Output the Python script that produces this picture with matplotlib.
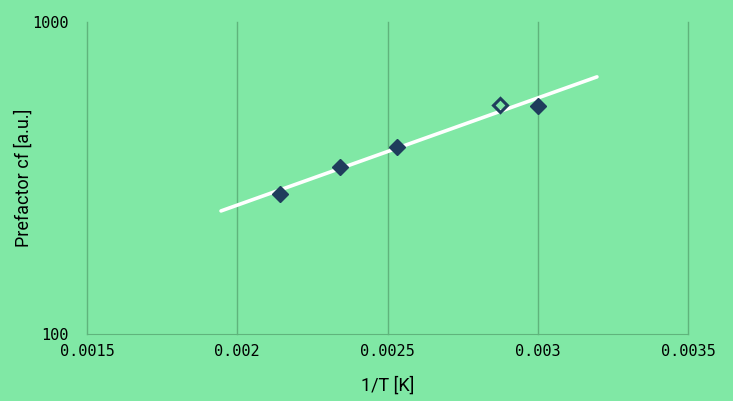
import matplotlib.pyplot as plt
from matplotlib.ticker import FixedLocator, NullLocator, FixedFormatter

inv_t = [0.002142, 0.002342, 0.002532, 0.003001]
prefactor = [281, 343, 397, 539]
inv_t_open = [0.002874]
prefactor_open = [542]
fit_x = [0.001946, 0.003197]
fit_y = [248, 667]

bg = '#80e8a5'
grid_col = '#5fb47c'
navy = '#1f3d5c'

fig = plt.figure(figsize=(7.33, 4.01), dpi=100, facecolor=bg)
ax = fig.add_axes([87 / 733, 1 - 334 / 401, (688 - 87) / 733, (334 - 22) / 401])
ax.set_facecolor(bg)

ax.plot(fit_x, fit_y, color='white', lw=2.6, solid_capstyle='round', zorder=3)
ax.plot(inv_t, prefactor, ls='none', marker='D', ms=8.5, color=navy, zorder=4)
ax.plot(inv_t_open, prefactor_open, ls='none', marker='D', ms=7.5, mfc='none',
        mec=navy, mew=2.2, zorder=4)

ax.set_yscale('log')
ax.set_ylim(100, 1000)
ax.set_xlim(0.0015, 0.0035)
ax.yaxis.set_major_locator(FixedLocator([100, 1000]))
ax.yaxis.set_major_formatter(FixedFormatter(['100', '1000']))
ax.yaxis.set_minor_locator(NullLocator())
xt = [0.0015, 0.002, 0.0025, 0.003, 0.0035]
ax.set_xticks(xt)
ax.set_xticklabels(['0.0015', '0.002', '0.0025', '0.003', '0.0035'])

ax.grid(axis='x', color=grid_col, lw=1)
for gl in ax.get_xgridlines():
    gl.set_clip_on(False)
for s in ['top', 'right', 'left']:
    ax.spines[s].set_visible(False)
ax.spines['bottom'].set_color(grid_col)
ax.tick_params(length=0, labelsize=11, colors='black')
ax.tick_params(axis='x', pad=7)
ax.tick_params(axis='y', pad=13)
for lab in ax.get_xticklabels() + ax.get_yticklabels():
    lab.set_family('DejaVu Sans Mono')

lab_font = ['Roboto', 'DejaVu Sans']
ax.set_xlabel('1/T [K]', fontsize=13, family=lab_font, labelpad=13)
ax.set_ylabel('Prefactor cf [a.u.]', fontsize=13, family=lab_font, labelpad=0)

fig.savefig('out.png', dpi=100, facecolor=bg)
